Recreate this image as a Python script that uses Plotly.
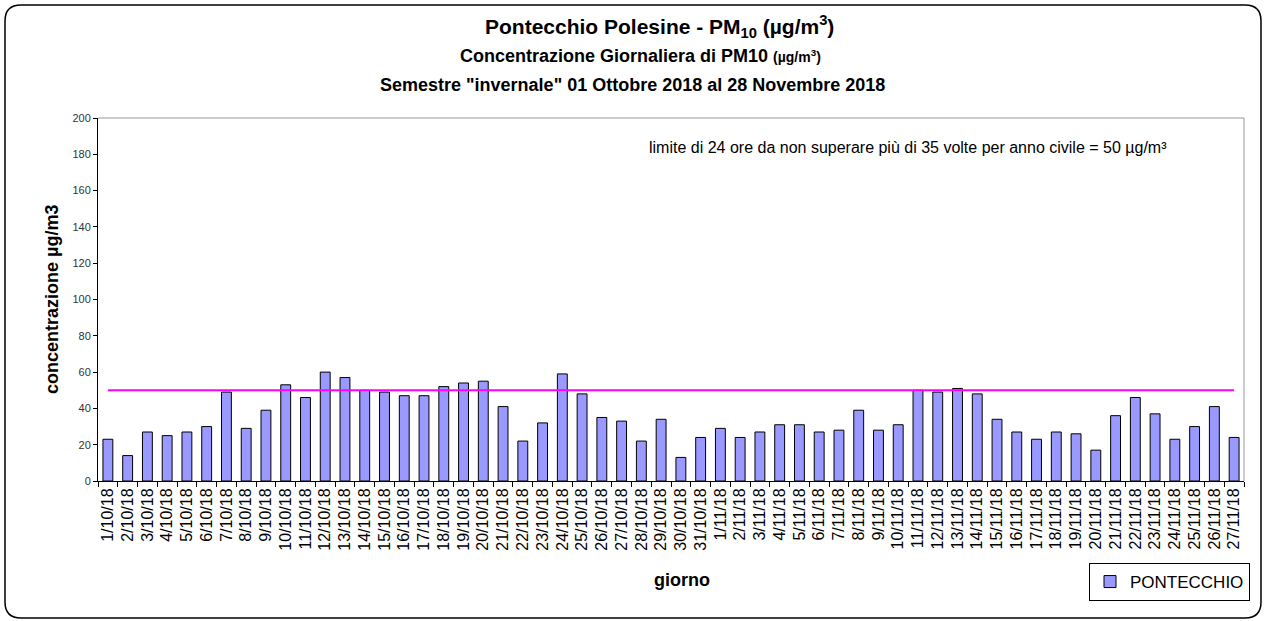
import plotly.graph_objects as go

days = [f"{d}/10/18" for d in range(1, 32)] + [f"{d}/11/18" for d in range(1, 28)]
pm10 = [23, 14, 27, 25, 27, 30, 49, 29, 39, 53, 46, 60, 57, 50, 49, 47, 47, 52, 54, 55,
        41, 22, 32, 59, 48, 35, 33, 22, 34, 13, 24,
        29, 24, 27, 31, 31, 27, 28, 39, 28, 31, 50, 49, 51, 48, 34, 27, 23, 27, 26,
        17, 36, 46, 37, 23, 30, 41, 24]
limit_value = 50
y_ticks = list(range(0, 201, 20))

W, H = 1265, 621
L, R, T, B = 98, 1244, 118, 481


def px(x):
    return (x - L) / (R - L)


def py(y):
    return (B - y) / (B - T)


FONT = "Arial, Liberation Sans, sans-serif"

fig = go.Figure()
fig.add_trace(go.Bar(
    x=days, y=pm10, name="PONTECCHIO",
    marker=dict(color="#9999FF", line=dict(color="black", width=1)),
))
fig.add_trace(go.Scatter(
    x=days, y=[limit_value] * len(days), mode="lines",
    line=dict(color="#FF00FF", width=2), showlegend=False, hoverinfo="skip",
))

# rounded outer border
x0, x1, y0, y1, r = 5, 1261, 5, 618, 16
path = (f"M {px(x0 + r)},{py(y0)} L {px(x1 - r)},{py(y0)} Q {px(x1)},{py(y0)} {px(x1)},{py(y0 + r)} "
        f"L {px(x1)},{py(y1 - r)} Q {px(x1)},{py(y1)} {px(x1 - r)},{py(y1)} "
        f"L {px(x0 + r)},{py(y1)} Q {px(x0)},{py(y1)} {px(x0)},{py(y1 - r)} "
        f"L {px(x0)},{py(y0 + r)} Q {px(x0)},{py(y0)} {px(x0 + r)},{py(y0)} Z")
shapes = [
    dict(type="path", xref="paper", yref="paper", path=path, line=dict(color="black", width=1.5)),
    dict(type="line", xref="paper", yref="paper", x0=0, x1=1, y0=1, y1=1, line=dict(color="#999999", width=1)),
    dict(type="line", xref="paper", yref="paper", x0=1, x1=1, y0=0, y1=1, line=dict(color="#999999", width=1)),
]

annotations = [
    dict(text="<b>Pontecchio Polesine - PM<sub>10</sub> (µg/m<sup>3</sup>)</b>", x=px(659), y=py(26),
         font=dict(size=21, color="black", family=FONT)),
    dict(text="<b>Concentrazione Giornaliera di PM10 <span style='font-size:14px'>(µg/m<sup>3</sup>)</span></b>",
         x=px(640), y=py(56), font=dict(size=18, color="black", family=FONT)),
    dict(text="<b>Semestre \"invernale\" 01 Ottobre 2018 al 28 Novembre 2018</b>", x=px(632), y=py(85),
         font=dict(size=18, color="black", family=FONT)),
    dict(text="limite di 24 ore da non superare più di 35 volte per anno civile = 50 µg/m³",
         x=px(908), y=py(148), font=dict(size=16, color="black", family=FONT)),
    dict(text="<b>concentrazione µg/m3</b>", x=px(52), y=py(300), textangle=-90,
         font=dict(size=18, color="black", family=FONT)),
    dict(text="<b>giorno</b>", x=px(682), y=py(580), font=dict(size=18, color="black", family=FONT)),
]
for a in annotations:
    a.update(xref="paper", yref="paper", showarrow=False, xanchor="center", yanchor="middle")

fig.update_layout(
    width=W, height=H, autosize=False,
    margin=dict(l=L, r=W - R, t=T, b=H - B),
    plot_bgcolor="white", paper_bgcolor="white",
    bargap=0.5,
    shapes=shapes, annotations=annotations,
    font=dict(family=FONT, color="black"),
    legend=dict(x=px(1250), y=py(563), xanchor="right", yanchor="top",
                bordercolor="black", borderwidth=1, bgcolor="white",
                font=dict(size=17, color="black", family=FONT),
                itemwidth=30),
    showlegend=True,
)
fig.update_xaxes(type="category", tickangle=-90, tickson="boundaries", ticks="outside", ticklen=5,
                 tickcolor="black", showline=True, linecolor="black", linewidth=1,
                 tickfont=dict(size=16, color="black", family=FONT), showgrid=False)
fig.update_yaxes(range=[0, 200], tickvals=y_ticks, ticks="outside", ticklen=4, tickcolor="black",
                 showline=True, linecolor="black", linewidth=1, showgrid=False, zeroline=False,
                 tickfont=dict(size=11, color="#333333", family=FONT))

fig.write_html("out.html", config={"displayModeBar": False},
               post_script="document.body.style.margin='0px';")
